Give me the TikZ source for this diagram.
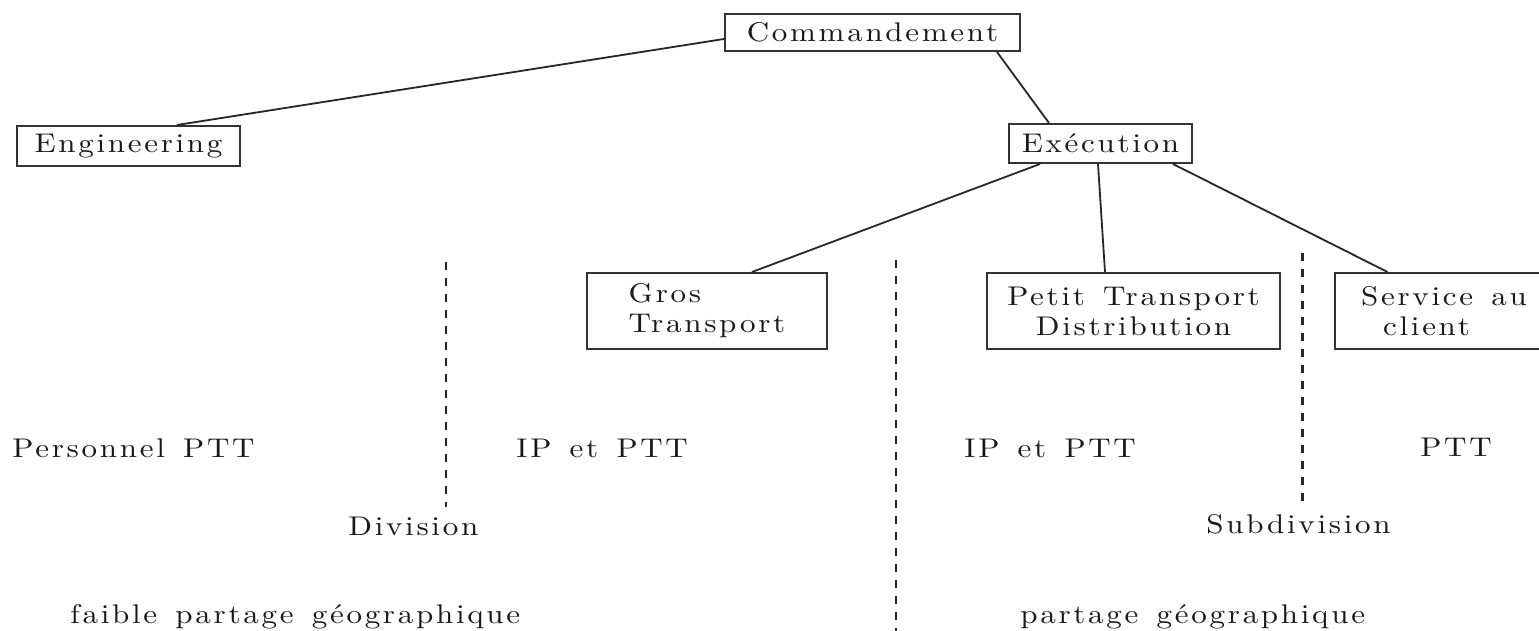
\documentclass[tikz,border=0pt]{standalone}
\usepackage{fontspec}
\usetikzlibrary{positioning}

\newfontfamily\typedfont{lmroman10-regular}[Extension=.otf,FakeStretch=1.15,LetterSpace=10,WordSpace=1.4]
\newcommand{\typed}{\typedfont\fontsize{27}{30}\selectfont}

\begin{document}
\begin{tikzpicture}[x=1pt,y=-1pt,thick,
    box/.style={draw=black!80,line width=2pt,inner sep=0pt,font=\typed,text=black!90},
    lbl/.style={font=\typed,text=black!90,inner sep=0pt,anchor=base west},
    sep/.style={draw=black!85,line width=2.5pt,dash pattern=on 8pt off 8pt},
    link/.style={draw=black!85,line width=1.8pt}]
  \clip (0,0) rectangle (1539,631);
  \fill[white] (0,0) rectangle (1539,631);

  \node[box,minimum width=295pt,minimum height=37pt] (cmd) at (872.5,32.5) {Commandement};
  \node[box,minimum width=223pt,minimum height=40pt] (eng) at (128.5,146) {Engineering};
  \node[box,minimum width=183pt,minimum height=39pt] (exe) at (1100.5,143.5) {Exécution};
  \node[box,minimum width=240pt,minimum height=76pt,align=left] (gros) at (707,311) {Gros\\Transport};
  \node[box,minimum width=293pt,minimum height=76pt,align=center] (petit) at (1133.5,311) {Petit Transport\\Distribution};
  \node[box,minimum width=218pt,minimum height=76pt,align=left] (serv) at (1444,311) {Service au\\\hspace*{22pt}client};

  \path[link] ([xshift=48.5pt]eng.north) edge ([yshift=-6.5pt]cmd.west)
              ([xshift=124.5pt]cmd.south) edge ([xshift=-51.5pt]exe.north)
              ([xshift=-60.5pt]exe.south) edge ([xshift=45pt]gros.north)
              ([xshift=-2.5pt]exe.south) edge ([xshift=-28.5pt]petit.north)
              ([xshift=72.5pt]exe.south) edge ([xshift=-56.5pt]serv.north);

  % separations
  \coordinate (s_1a) at (446,262);   \coordinate (s_1b) at (446,507);
  \coordinate (s_2a) at (896,260);   \coordinate (s_2b) at (896,631);
  \coordinate (s_3a) at (1302.5,253); \coordinate (s_3b) at (1302.5,503);
  \draw[sep] (s_1a) -- (s_1b);
  \draw[sep] (s_2a) -- (s_2b);
  \draw[sep] (s_3a) -- (s_3b);

  \node[lbl] (pers) at (12,457) {Personnel PTT};
  \node[lbl] (ip_1) at (516,457) {IP et PTT};
  \node[lbl] (ip_2) at (964,457) {IP et PTT};
  \node[lbl] (ptt)  at (1420,456) {PTT};
  \node[lbl] (div)  at (348,535) {Division};
  \node[lbl] (sdiv) at (1206,533) {Subdivision};
  \node[lbl] (geo_1) at (70,623) {faible partage géographique};
  \node[lbl] (geo_2) at (1020,623) {partage géographique};
\end{tikzpicture}
\end{document}
